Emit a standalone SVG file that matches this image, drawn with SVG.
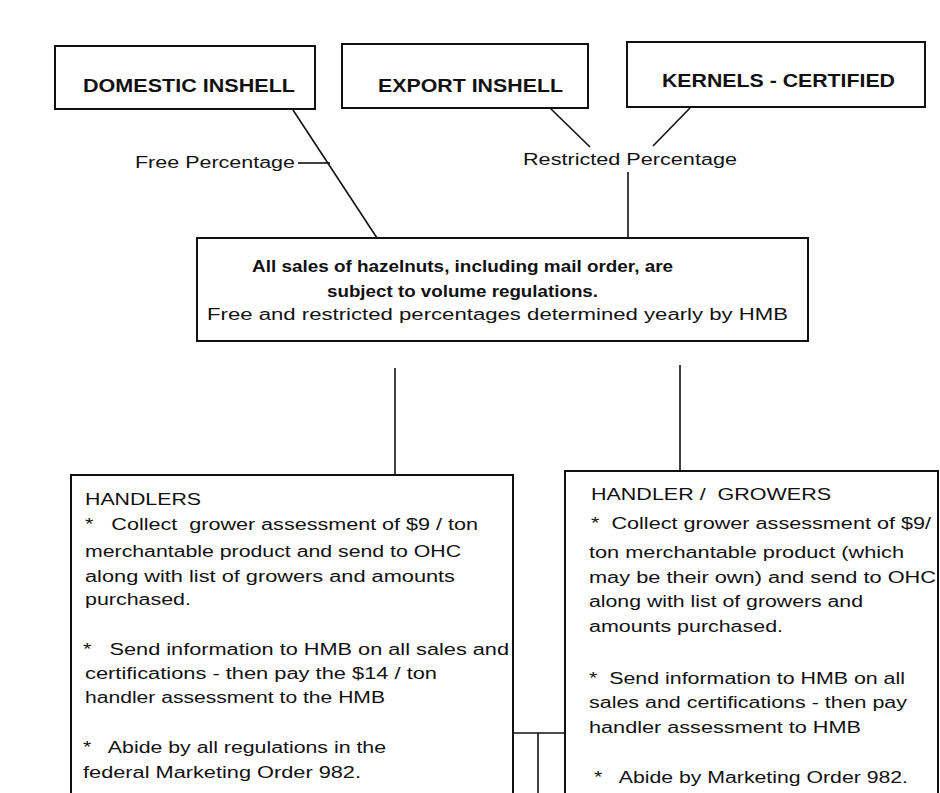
<svg xmlns="http://www.w3.org/2000/svg" width="940" height="793" viewBox="0 0 940 793">
<style>
  .box { fill: #ffffff; stroke: #111; stroke-width: 2; }
  .ln { stroke: #111; stroke-width: 1.6; fill: none; }
  text { font-family: "Liberation Sans", Arial, sans-serif; fill: #111; white-space: pre; }
  .hd { font-size: 18px; font-weight: bold; }
  .lbl { font-size: 16px; }
  .mb { font-size: 17px; font-weight: bold; }
  .body { font-size: 16px; }
</style>
<rect width="940" height="793" fill="#ffffff"/>

<g id="connectors">
  <line class="ln" x1="293" y1="110" x2="377" y2="238"/>
  <line class="ln" x1="298" y1="163" x2="330" y2="163"/>
  <line class="ln" x1="550" y1="108" x2="590" y2="147"/>
  <line class="ln" x1="690" y1="108" x2="653" y2="146"/>
  <line class="ln" x1="628" y1="172" x2="628" y2="238"/>
  <line class="ln" x1="395" y1="368" x2="395" y2="475"/>
  <line class="ln" x1="680" y1="365" x2="680" y2="471"/>
  <line class="ln" x1="513" y1="733" x2="565" y2="733"/>
  <line class="ln" x1="538" y1="733" x2="538" y2="793"/>
</g>

<g id="domestic-inshell">
  <rect class="box" x="55" y="46" width="260" height="63"/>
  <text class="hd" x="83" y="92" textLength="212" lengthAdjust="spacingAndGlyphs">DOMESTIC INSHELL</text>
</g>

<g id="export-inshell">
  <rect class="box" x="342" y="44" width="246" height="64"/>
  <text class="hd" x="378" y="92" textLength="185" lengthAdjust="spacingAndGlyphs">EXPORT INSHELL</text>
</g>

<g id="kernels-certified">
  <rect class="box" x="627" y="42" width="298" height="65"/>
  <text class="hd" x="662" y="87" textLength="233" lengthAdjust="spacingAndGlyphs">KERNELS - CERTIFIED</text>
</g>

<g id="label-free">
  <text class="lbl" x="135" y="168" textLength="160" lengthAdjust="spacingAndGlyphs">Free Percentage</text>
</g>

<g id="label-restricted">
  <text class="lbl" x="523" y="165" textLength="214" lengthAdjust="spacingAndGlyphs">Restricted Percentage</text>
</g>

<g id="volume-regulations">
  <rect class="box" x="197" y="238" width="611" height="103"/>
  <text class="mb" x="252" y="272" textLength="421" lengthAdjust="spacingAndGlyphs">All sales of hazelnuts, including mail order, are</text>
  <text class="mb" x="327" y="297" textLength="271" lengthAdjust="spacingAndGlyphs">subject to volume regulations.</text>
  <text class="body" x="207" y="320" textLength="581" lengthAdjust="spacingAndGlyphs">Free and restricted percentages determined yearly by HMB</text>
</g>

<g id="handlers">
  <path class="box" d="M71,793 V475 H513 V793"/>
  <text class="body" x="85" y="505" textLength="116" lengthAdjust="spacingAndGlyphs">HANDLERS</text>
  <text class="body" x="85" y="530" textLength="393" lengthAdjust="spacingAndGlyphs">*   Collect  grower assessment of $9 / ton</text>
  <text class="body" x="85" y="557" textLength="376" lengthAdjust="spacingAndGlyphs">merchantable product and send to OHC</text>
  <text class="body" x="85" y="582" textLength="370" lengthAdjust="spacingAndGlyphs">along with list of growers and amounts</text>
  <text class="body" x="85" y="605" textLength="106" lengthAdjust="spacingAndGlyphs">purchased.</text>
  <text class="body" x="83" y="655" textLength="426" lengthAdjust="spacingAndGlyphs">*   Send information to HMB on all sales and</text>
  <text class="body" x="85" y="679" textLength="352" lengthAdjust="spacingAndGlyphs">certifications - then pay the $14 / ton</text>
  <text class="body" x="85" y="703" textLength="300" lengthAdjust="spacingAndGlyphs">handler assessment to the HMB</text>
  <text class="body" x="83" y="753" textLength="303" lengthAdjust="spacingAndGlyphs">*   Abide by all regulations in the</text>
  <text class="body" x="83" y="778" textLength="278" lengthAdjust="spacingAndGlyphs">federal Marketing Order 982.</text>
</g>

<g id="handler-growers">
  <path class="box" d="M565,793 V471 H938 V793"/>
  <text class="body" x="591" y="500" textLength="240" lengthAdjust="spacingAndGlyphs">HANDLER /  GROWERS</text>
  <text class="body" x="591" y="529" textLength="340" lengthAdjust="spacingAndGlyphs">*  Collect grower assessment of $9/</text>
  <text class="body" x="589" y="558" textLength="315" lengthAdjust="spacingAndGlyphs">ton merchantable product (which</text>
  <text class="body" x="589" y="583" textLength="347" lengthAdjust="spacingAndGlyphs">may be their own) and send to OHC</text>
  <text class="body" x="589" y="607" textLength="274" lengthAdjust="spacingAndGlyphs">along with list of growers and</text>
  <text class="body" x="589" y="632" textLength="194" lengthAdjust="spacingAndGlyphs">amounts purchased.</text>
  <text class="body" x="589" y="684" textLength="316" lengthAdjust="spacingAndGlyphs">*  Send information to HMB on all</text>
  <text class="body" x="589" y="708" textLength="318" lengthAdjust="spacingAndGlyphs">sales and certifications - then pay</text>
  <text class="body" x="589" y="733" textLength="272" lengthAdjust="spacingAndGlyphs">handler assessment to HMB</text>
  <text class="body" x="594" y="783" textLength="314" lengthAdjust="spacingAndGlyphs">*   Abide by Marketing Order 982.</text>
</g>
</svg>
